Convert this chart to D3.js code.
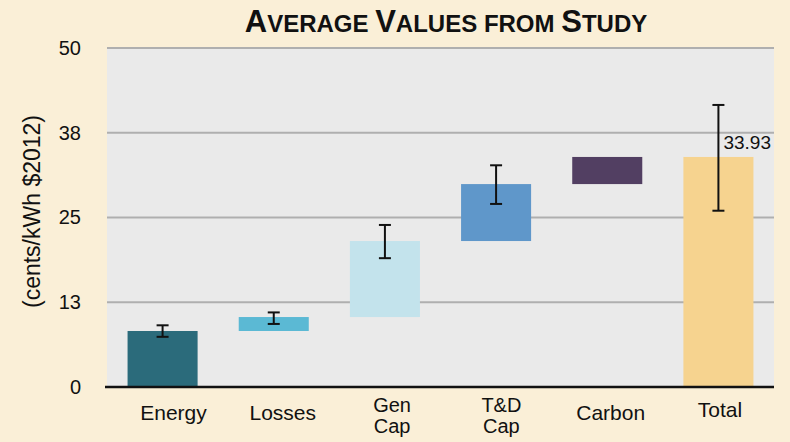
<!DOCTYPE html>
<html>
<head>
<meta charset="utf-8">
<script src="https://cdn.jsdelivr.net/npm/d3@7"></script>
<style>
  html, body { margin: 0; padding: 0; background: #FAEFD7; }
  svg { display: block; font-family: "Liberation Sans", Arial, Helvetica, sans-serif; }
</style>
</head>
<body>
<svg id="chart" width="790" height="442"></svg>
<script>
// Cost components (cents/kWh, $2012), stacked as a waterfall
const categories = ["Energy", "Losses", "Gen Cap", "T&D Cap", "Carbon", "Total"];
const increments = [8.26, 2.06, 11.21, 8.40, 4.00];   // first five steps
const totalValue = 33.93;
const errLow  = [7.4, 9.3, 19.0, 27.0, null, 26.0];
const errHigh = [9.1, 11.0, 23.9, 32.7, null, 41.6];
const barColors = ["#2B6B7B", "#5BB9D4", "#C3E3EC", "#5F97CA", "#523F62", "#F6D38F"];
const yTicks = [0, 12.5, 25, 37.5, 50];
const yTickLabels = ["0", "13", "25", "38", "50"];

// Build start/end of each bar
const bars = [];
let running = 0;
increments.forEach((v, i) => {
  bars.push({ cat: categories[i], y0: running, y1: running + v, color: barColors[i], lo: errLow[i], hi: errHigh[i] });
  running += v;
});
bars.push({ cat: categories[5], y0: 0, y1: totalValue, color: barColors[5], lo: errLow[5], hi: errHigh[5] });

const svg = d3.select("#chart");
const margin = { left: 107, right: 16, top: 48, bottom: 55 };
const W = 790, H = 442;
const innerW = W - margin.left - margin.right;
const innerH = H - margin.top - margin.bottom;

const x = d3.scaleBand().domain(categories).range([0, innerW]).paddingInner(0.37).paddingOuter(0.185);
// category labels sit on their own slightly narrower spacing
const xLabel = d3.scalePoint().domain(categories).range([66.5, 613]);
const y = d3.scaleLinear().domain([0, 50]).range([innerH, 0]);

const g = svg.append("g").attr("transform", `translate(${margin.left},${margin.top})`);

// plot background
g.append("rect").attr("x", 0).attr("y", 0).attr("width", innerW).attr("height", innerH).attr("fill", "#EAEAEA");

// gridlines
g.selectAll(".grid").data(yTicks.slice(1)).join("line")
  .attr("x1", 0).attr("x2", innerW)
  .attr("y1", d => y(d)).attr("y2", d => y(d))
  .attr("stroke", "#AFAFAF").attr("stroke-width", 2);

// y axis tick labels
const yAxis = d3.axisLeft(y).tickValues(yTicks).tickSize(0).tickPadding(26)
  .tickFormat((d, i) => yTickLabels[i]);
const ya = g.append("g").call(yAxis);
ya.select(".domain").remove();
ya.selectAll("text").attr("font-size", 20).attr("fill", "#111").attr("font-family", "Liberation Sans, Arial, sans-serif");

// bars
g.selectAll(".bar").data(bars).join("rect")
  .attr("x", d => x(d.cat))
  .attr("width", x.bandwidth())
  .attr("y", d => y(d.y1))
  .attr("height", d => y(d.y0) - y(d.y1))
  .attr("fill", d => d.color);

// baseline
g.append("line").attr("x1", -2).attr("x2", innerW).attr("y1", y(0)).attr("y2", y(0))
  .attr("stroke", "#111").attr("stroke-width", 2.5);

// error bars
const eb = g.selectAll(".err").data(bars.filter(d => d.lo != null)).join("g");
const cx = d => x(d.cat) + x.bandwidth() / 2;
eb.append("line").attr("x1", cx).attr("x2", cx).attr("y1", d => y(d.lo)).attr("y2", d => y(d.hi))
  .attr("stroke", "#111").attr("stroke-width", 2);
eb.append("line").attr("x1", d => cx(d) - 6).attr("x2", d => cx(d) + 6).attr("y1", d => y(d.lo)).attr("y2", d => y(d.lo))
  .attr("stroke", "#111").attr("stroke-width", 2);
eb.append("line").attr("x1", d => cx(d) - 6).attr("x2", d => cx(d) + 6).attr("y1", d => y(d.hi)).attr("y2", d => y(d.hi))
  .attr("stroke", "#111").attr("stroke-width", 2);

// total value label
g.append("text").attr("x", cx(bars[5]) + 5).attr("y", y(totalValue) - 8)
  .attr("font-size", 19).attr("fill", "#111").text(totalValue.toFixed(2));

// x category labels (two-line where needed)
const xLines = { "Energy": ["Energy"], "Losses": ["Losses"], "Gen Cap": ["Gen", "Cap"], "T&D Cap": ["T&D", "Cap"], "Carbon": ["Carbon"], "Total": ["Total"] };
categories.forEach(c => {
  const lines = xLines[c];
  const multi = lines.length > 1;
  const t = g.append("text").attr("text-anchor", "middle").attr("font-size", multi ? 20 : 21).attr("fill", "#111")
    .attr("x", xLabel(c));
  if (!multi) {
    t.attr("y", innerH + (c === "Total" ? 30 : 33)).text(lines[0]);
  } else {
    lines.forEach((ln, i) => t.append("tspan").attr("x", xLabel(c)).attr("y", innerH + 25 + i * 21).text(ln));
  }
});

// y axis title
svg.append("text")
  .attr("transform", `translate(40, ${margin.top + innerH / 2 - 6}) rotate(-90)`)
  .attr("text-anchor", "middle").attr("font-size", 23).attr("fill", "#111")
  .text("(cents/kWh $2012)");

// title in small caps
const title = svg.append("text").attr("x", 446).attr("y", 32).attr("text-anchor", "middle")
  .attr("font-weight", "bold").attr("fill", "#111");
const titleWords = ["Average", "Values", "from", "Study"];
titleWords.forEach((w, wi) => {
  if (wi > 0) title.append("tspan").attr("font-size", 24).text(" ");
  const first = w[0];
  const rest = w.slice(1);
  if (first === first.toUpperCase()) {
    title.append("tspan").attr("font-size", 31).text(first);
    title.append("tspan").attr("font-size", 24).text(rest.toUpperCase());
  } else {
    title.append("tspan").attr("font-size", 24).text(w.toUpperCase());
  }
});
</script>
</body>
</html>
